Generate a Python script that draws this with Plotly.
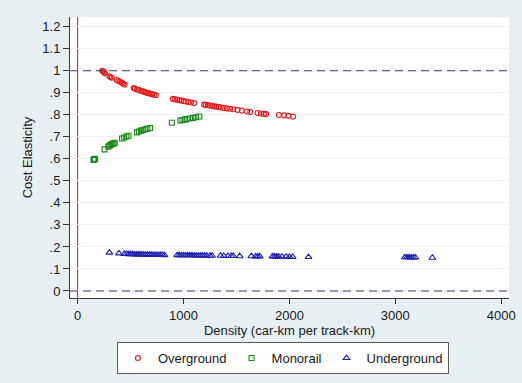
import plotly.graph_objects as go

# ---------------- data ----------------
over_x = [232, 240, 248, 258, 300, 310, 322, 370, 385, 400, 418, 430, 445,
          530, 540, 560, 580, 600, 615, 630, 645, 660, 675, 690, 705, 720, 738,
          900, 920, 940, 960, 980, 1000, 1020, 1045, 1070, 1100,
          1195, 1210, 1230, 1250, 1270, 1290, 1310, 1330, 1350, 1380, 1410,
          1440, 1470, 1510, 1550, 1600, 1630, 1700, 1730, 1760, 1780,
          1900, 1950, 1990, 2035]
over_y = [1.000, 0.997, 0.993, 0.988, 0.975, 0.971, 0.968, 0.958, 0.953, 0.950, 0.945, 0.941, 0.937,
          0.921, 0.919, 0.915, 0.912, 0.909, 0.906, 0.904, 0.901, 0.899, 0.897, 0.895, 0.893, 0.891, 0.889,
          0.872, 0.870, 0.868, 0.866, 0.864, 0.862, 0.860, 0.858, 0.856, 0.853,
          0.846, 0.845, 0.843, 0.842, 0.840, 0.838, 0.837, 0.835, 0.834, 0.831, 0.829,
          0.827, 0.825, 0.822, 0.819, 0.815, 0.812, 0.808, 0.806, 0.804, 0.803,
          0.799, 0.797, 0.795, 0.791]

mono_x = [150, 155, 160, 165, 255, 290, 300, 310, 320, 330, 340, 350,
          420, 440, 460, 480, 560, 580, 600, 620, 640, 660, 685,
          890, 970, 990, 1010, 1030, 1060, 1090, 1120, 1150]
mono_y = [0.595, 0.597, 0.598, 0.600, 0.643, 0.655, 0.659, 0.663, 0.666, 0.668, 0.671, 0.673,
          0.692, 0.697, 0.701, 0.705, 0.720, 0.724, 0.728, 0.731, 0.734, 0.737, 0.740,
          0.764, 0.774, 0.776, 0.778, 0.780, 0.783, 0.786, 0.789, 0.792]

under_x = [300, 390, 440, 460, 480, 500, 520, 540, 560, 580, 600, 620, 640, 660, 680,
           700, 720, 740, 760, 780, 800, 820,
           940, 960, 980, 1000, 1020, 1040, 1060, 1080, 1100, 1120, 1140, 1160, 1180,
           1200, 1220, 1250, 1270,
           1350, 1380, 1420, 1450, 1470, 1530,
           1640, 1680, 1700, 1720,
           1840, 1860, 1880, 1900, 1930, 1970, 2000, 2030,
           2180,
           3090, 3110, 3130, 3150, 3170, 3190,
           3350]
under_y = [0.174, 0.171, 0.168, 0.168, 0.167, 0.167, 0.167, 0.166, 0.166, 0.166, 0.166, 0.165, 0.165, 0.165, 0.165,
           0.165, 0.164, 0.164, 0.164, 0.164, 0.164, 0.163,
           0.163, 0.163, 0.162, 0.162, 0.162, 0.162, 0.162, 0.162, 0.161, 0.161, 0.161, 0.161, 0.161,
           0.161, 0.160, 0.160, 0.160,
           0.160, 0.159, 0.159, 0.159, 0.159, 0.158,
           0.158, 0.157, 0.157, 0.157,
           0.157, 0.157, 0.156, 0.156, 0.156, 0.156, 0.155, 0.155,
           0.154,
           0.153, 0.153, 0.153, 0.152, 0.152, 0.152,
           0.151]

series_names = ["Overground", "Monorail", "Underground"]

y_ticks = [0, 0.1, 0.2, 0.3, 0.4, 0.5, 0.6, 0.7, 0.8, 0.9, 1.0, 1.1, 1.2]
y_tick_labels = ["0", ".1", ".2", ".3", ".4", ".5", ".6", ".7", ".8", ".9", "1", "1.1", "1.2"]
x_ticks = [0, 1000, 2000, 3000, 4000]
x_tick_labels = ["0", "1000", "2000", "3000", "4000"]
ref_y_lines = [0, 1]
ref_x_lines = [0]

# ---------------- styling ----------------
FONT = "Liberation Sans, Arial, sans-serif"
BG = "#e8eff2"
RED = "#e41a1c"
GREEN = "#1a8a1a"
BLUE = "#1f1fb0"

fig = go.Figure()
for yv in ref_y_lines:
    fig.add_shape(type="line", xref="paper", yref="y", x0=0, x1=1, y0=yv, y1=yv,
                  line=dict(color="#3a3a7a", width=1.1, dash="8px,5px"), layer="above")
for xv in ref_x_lines:
    fig.add_shape(type="line", xref="x", yref="paper", x0=xv, x1=xv, y0=0, y1=1,
                  line=dict(color="#9a2a46", width=1), layer="between")

fig.add_trace(go.Scatter(x=over_x, y=over_y, mode="markers", name=series_names[0],
                         marker=dict(symbol="circle-open", size=5, color=RED,
                                     line=dict(width=1.1, color=RED))))
fig.add_trace(go.Scatter(x=mono_x, y=mono_y, mode="markers", name=series_names[1],
                         marker=dict(symbol="square-open", size=5, color=GREEN,
                                     line=dict(width=1.1, color=GREEN))))
fig.add_trace(go.Scatter(x=under_x, y=under_y, mode="markers", name=series_names[2],
                         marker=dict(symbol="triangle-up-open", size=6, color=BLUE,
                                     line=dict(width=1.1, color=BLUE))))

fig.update_layout(
    width=522, height=383,
    margin=dict(l=70, r=6, t=17, b=85),
    paper_bgcolor=BG, plot_bgcolor="white",
    font=dict(family=FONT, size=13, color="#1a1a1a"),
    showlegend=True,
    legend=dict(orientation="h", x=0.485, xanchor="center", y=-0.157, yanchor="top",
                bgcolor="white", bordercolor="#5a5a5a", borderwidth=1,
                font=dict(size=13), itemsizing="trace", traceorder="normal",
                itemwidth=30, tracegroupgap=0),
)
fig.update_xaxes(range=[-72, 4074], tickvals=x_ticks, ticktext=x_tick_labels,
                 showgrid=False, zeroline=False, showline=True, linecolor="#333333", linewidth=1,
                 ticks="outside", ticklen=5, tickcolor="#333333", ticklabeloverflow="allow",
                 title=dict(text="Density (car-km per track-km)", standoff=4,
                            font=dict(size=13)))
fig.update_yaxes(range=[-0.0318, 1.2438], tickvals=y_ticks, ticktext=y_tick_labels,
                 showgrid=True, gridcolor="#edf2f4", gridwidth=1,
                 zeroline=False, showline=True, linecolor="#333333", linewidth=1,
                 ticks="outside", ticklen=6, tickcolor="#333333",
                 title=dict(text="Cost Elasticity", standoff=6, font=dict(size=13)))

fig.write_html("out.html")
